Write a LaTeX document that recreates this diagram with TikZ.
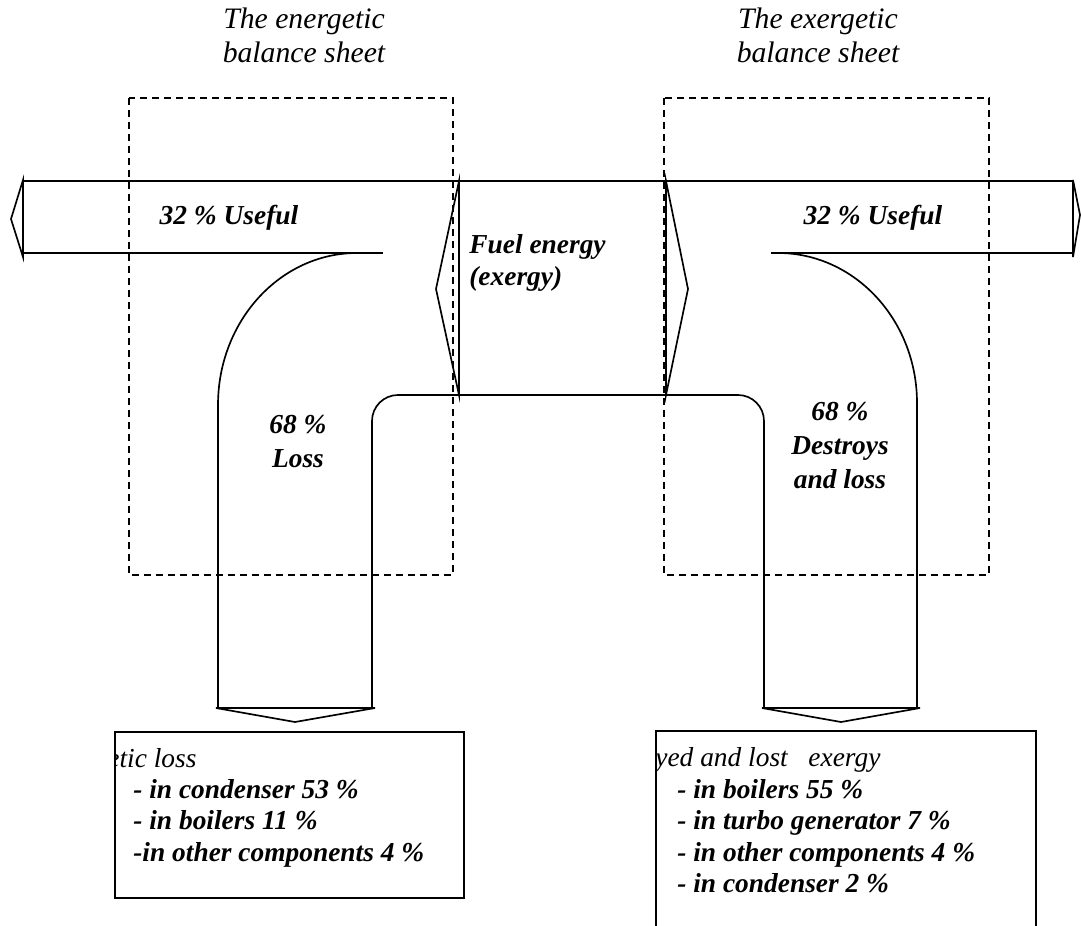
\documentclass[tikz,border=0pt]{standalone}
\usepackage{fontspec}
\setmainfont{Liberation Serif}
\usepackage{tikz}
\usetikzlibrary{calc}
\usetikzlibrary{positioning}

\begin{document}
\begin{tikzpicture}
 \coordinate (origo) at (0,0);
 \useasboundingbox (origo) rectangle (21.62,-18.50);

\tikzstyle{stream}=[line width=0.95pt,line join=miter]
\tikzstyle{sheet}=[line width=0.9pt,dash pattern=on 0.14cm off 0.1cm]
\tikzstyle{headtext}=[inner sep=0pt,align=center,font=\fontsize{16.9}{19.3}\selectfont\itshape]
\tikzstyle{boldtext}=[inner sep=0pt,align=center,font=\fontsize{15.6}{19.3}\selectfont\bfseries\itshape]
\tikzstyle{listtext}=[inner sep=0pt,align=left,anchor=base west,font=\fontsize{15.6}{17.9}\selectfont\bfseries\itshape]

   %balance sheets
    \node (entitle) [headtext,anchor=base] at (6.08,-1.25) {The energetic\\balance sheet};
    \node (extitle) [headtext,anchor=base] at (16.36,-1.25) {The exergetic\\balance sheet};
    \draw[sheet] (2.58,-1.96) rectangle (9.06,-11.50);
    \draw[sheet] (13.28,-1.96) rectangle (19.78,-11.50);

   %useful part, out on both sides
    \draw[stream] (0.46,-3.62) -- (21.46,-3.62);
    \draw[stream] (0.46,-5.06) -- (7.66,-5.06);
    \draw[stream] (15.42,-5.06) -- (21.46,-5.06);
    \draw[stream] (0.46,-3.60) -- (0.22,-4.38) -- (0.46,-5.14) -- cycle;
    \draw[stream] (21.46,-3.60) -- (21.60,-4.30) -- (21.46,-5.14) -- cycle;

   %fuel in the middle
    \draw[stream] (9.18,-3.62) -- (8.72,-5.78) -- (9.18,-7.90) -- cycle;
    \draw[stream] (13.32,-3.62) -- (13.76,-5.78) -- (13.32,-7.90) -- cycle;

   %losses going down
    \draw[stream] (7.14,-5.06) arc[start angle=90,end angle=180,x radius=2.78cm,y radius=3.04cm] -- (4.36,-14.16);
    \draw[stream] (15.56,-5.06) arc[start angle=90,end angle=0,x radius=2.78cm,y radius=3cm] -- (18.34,-14.16);
    \draw[stream,rounded corners=0.52cm] (7.44,-14.16) -- (7.44,-7.90) -- (15.28,-7.90) -- (15.28,-14.16);
    \draw[stream] (4.32,-14.16) -- (7.50,-14.16) -- (5.90,-14.44) -- cycle;
    \draw[stream] (15.24,-14.16) -- (18.40,-14.16) -- (16.82,-14.44) -- cycle;

    \node (useL) [boldtext,anchor=base] at (4.58,-4.48) {32 \% Useful};
    \node (useR) [boldtext,anchor=base] at (17.46,-4.48) {32 \% Useful};
    \node (fuel) [boldtext,align=left,anchor=base west,font=\fontsize{15.6}{18.2}\selectfont\bfseries\itshape] at (9.38,-5.70) {Fuel energy\\(exergy)};
    \node (lossL) [boldtext,anchor=base] at (5.96,-9.34) {68 \%\\Loss};
    \node (lossR) [boldtext,anchor=base] at (16.80,-9.76) {68 \%\\Destroys\\and loss};

   %boxes below
    \node (enbox) [draw,line width=0.95pt,anchor=north west,minimum width=6.98cm,minimum height=3.32cm] at (2.28,-14.62) {};
    \draw[line width=0.95pt] (13.12,-18.60) coordinate (exfoot) -- (13.12,-14.62) -- (20.72,-14.62) -- (20.72,-18.60);
    \coordinate (exbox) at (13.12,-14.62);

    \begin{scope}
    \clip (enbox.north west) rectangle (enbox.south east);
    \node (enhead) [inner sep=0pt,anchor=base west,font=\fontsize{15.6}{17.9}\selectfont\itshape] at ($(enbox.north west)+(-0.14,-0.72)$) {etic loss};
    \end{scope}
    \begin{scope}
    \clip (exbox) rectangle (20.72,-18.60);
    \node (exhead) [inner sep=0pt,anchor=base west,font=\fontsize{15.6}{17.9}\selectfont\itshape] at ($(exbox)+(-0.02,-0.70)$) {yed and lost \ \ exergy};
    \end{scope}

    \node (enlist) [listtext] at ($(enbox.north west)+(0.38,-2.60)$) {- in condenser 53 \%\\- in boilers 11 \%\\-in other components 4 \%};
    \node (exlist) [listtext] at ($(exbox)+(0.42,-3.23)$) {- in boilers 55 \%\\- in turbo generator 7 \%\\- in other components 4 \%\\- in condenser 2 \%};

\end{tikzpicture}
\end{document}
